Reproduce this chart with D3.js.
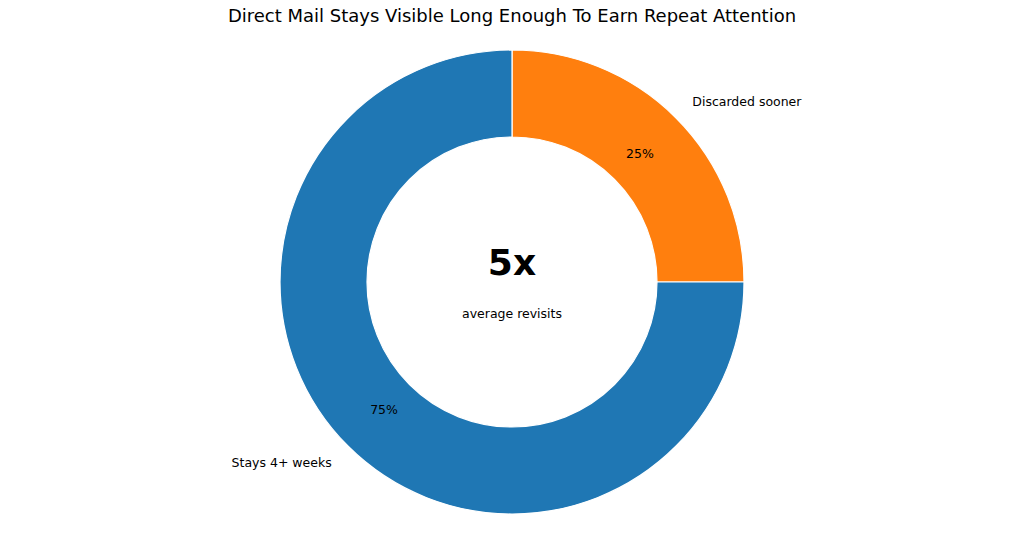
<!DOCTYPE html>
<html>
<head>
<meta charset="utf-8">
<script src="https://cdn.jsdelivr.net/npm/d3@7"></script>
<style>
  body { margin: 0; background: #fff; }
  text { font-family: "DejaVu Sans", sans-serif; }
</style>
</head>
<body>
<svg id="chart" width="1024" height="545"></svg>
<script>
var labels = ['Discarded sooner', 'Stays 4+ weeks'];
var values = [25, 75];
var colors = ['#ff7f0e', '#1f77b4'];
var bigNumber = '5x';
var subText = 'average revisits';

var svg = d3.select('#chart');
var cx = 512, cy = 282, outer = 232, inner = 145;

svg.append('text')
    .attr('x', cx).attr('y', 22)
    .attr('text-anchor', 'middle')
    .style('font-size', '18px')
    .text('Direct Mail Stays Visible Long Enough To Earn Repeat Attention');

var pie = d3.pie().sort(null).value(function(d) { return d; });
var arcs = pie(values);
var arc = d3.arc().innerRadius(inner).outerRadius(outer);
var total = d3.sum(values);

var g = svg.append('g').attr('transform', 'translate(' + cx + ',' + cy + ')');

g.selectAll('path').data(arcs).enter().append('path')
    .attr('d', arc)
    .attr('fill', function(d, i) { return colors[i]; })
    .attr('stroke', '#fff')
    .attr('stroke-width', 1.2);

function pos(d, r) {
    var a = (d.startAngle + d.endAngle) / 2;
    return [r * Math.sin(a), -r * Math.cos(a)];
}

g.selectAll('.lbl').data(arcs).enter().append('text')
    .attr('class', 'lbl')
    .attr('x', function(d) { return pos(d, 255)[0]; })
    .attr('y', function(d) { return pos(d, 255)[1]; })
    .attr('dy', '0.35em')
    .attr('text-anchor', function(d) { return pos(d, 1)[0] > 0 ? 'start' : 'end'; })
    .style('font-size', '12.5px')
    .text(function(d, i) { return labels[i]; });

g.selectAll('.pct').data(arcs).enter().append('text')
    .attr('class', 'pct')
    .attr('x', function(d) { return pos(d, 181)[0]; })
    .attr('y', function(d) { return pos(d, 181)[1]; })
    .attr('dy', '0.35em')
    .attr('text-anchor', 'middle')
    .style('font-size', '12.5px')
    .text(function(d) { return Math.round(d.value / total * 100) + '%'; });

g.append('text')
    .attr('y', -20).attr('dy', '0.35em')
    .attr('text-anchor', 'middle')
    .style('font-size', '36px').style('font-weight', 'bold')
    .text(bigNumber);

g.append('text')
    .attr('y', 32).attr('dy', '0.35em')
    .attr('text-anchor', 'middle')
    .style('font-size', '12.5px')
    .text(subText);
</script>
</body>
</html>
